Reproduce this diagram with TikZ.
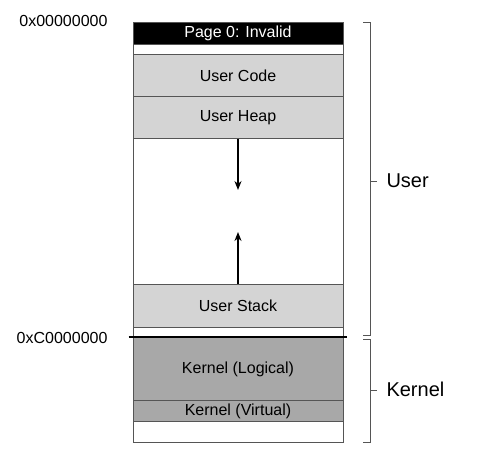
\documentclass[tikz,border=0pt]{standalone}
\usepackage{fontspec}
\setmainfont{Liberation Sans}
\usetikzlibrary{positioning,arrows.meta}
\definecolor{usergray}{RGB}{212,212,212}
\definecolor{kernelgray}{RGB}{168,168,168}
\definecolor{edgegray}{RGB}{85,85,85}

\begin{document}
\begin{tikzpicture}[x=1pt,y=-1pt,
  seg/.style={draw=edgegray, line width=0.8pt, minimum width=210pt,
    inner sep=0pt, anchor=north, font=\fontsize{16}{18}\selectfont},
  growarrow/.style={line width=2.6pt, -{Stealth[length=9pt,width=7pt]}},
  bracket/.style={draw=edgegray, line width=0.8pt},
  addr/.style={anchor=east, font=\fontsize{16}{18}\selectfont},
  part/.style={anchor=west, font=\fontsize{20}{22}\selectfont}]
\useasboundingbox (0,0) rectangle (491,451);

% Espace d'adressage
\node[seg, fill=black, text=white, minimum height=22pt] (page0) at (238,22) {Page 0: Invalid};
\node[seg, fill=white, minimum height=10pt] (gapa) at (238,44) {};
\node[seg, fill=usergray, minimum height=42pt] (code) at (238,54) {User Code};
\node[seg, fill=usergray, minimum height=42pt] (heap) at (238,96) {User Heap};
\node[seg, fill=white, minimum height=146pt] (free) at (238,138) {};
\node[seg, fill=usergray, minimum height=43pt] (stack) at (238,284) {User Stack};
\node[seg, fill=white, minimum height=10pt] (gapb) at (238,327) {};
\node[seg, fill=kernelgray, minimum height=63pt] (logical) at (238,337) {Kernel (Logical)};
\node[seg, fill=kernelgray, minimum height=21pt] (virtual) at (238,400) {Kernel (Virtual)};
\node[seg, fill=white, minimum height=21pt] (gapc) at (238,421) {};

% Limite noyau
\draw[line width=2.5pt] ([xshift=-4pt]logical.north west) -- ([xshift=4pt]logical.north east);

% Croissance du tas et de la pile
\coordinate (heaptip) at (238,190);
\coordinate (stacktip) at (238,232);
\draw[growarrow] (heap.south) -- (heaptip);
\draw[growarrow] (stack.north) -- (stacktip);

% Adresses
\node[addr] (addrzero) at (111,21) {0x00000000};
\node[addr] (addrkern) at (111,338) {0xC0000000};

% Accolades
\draw[bracket] (363,22) -- (370,22) -- (370,335) -- (363,335);
\draw[bracket] (370,181) -- (377,181);
\draw[bracket] (363,339) -- (370,339) -- (370,442) -- (363,442);
\draw[bracket] (370,390) -- (377,390);
\node[part] (userlbl) at (383,181) {User};
\node[part] (kernlbl) at (383,389) {Kernel};
\end{tikzpicture}
\end{document}
